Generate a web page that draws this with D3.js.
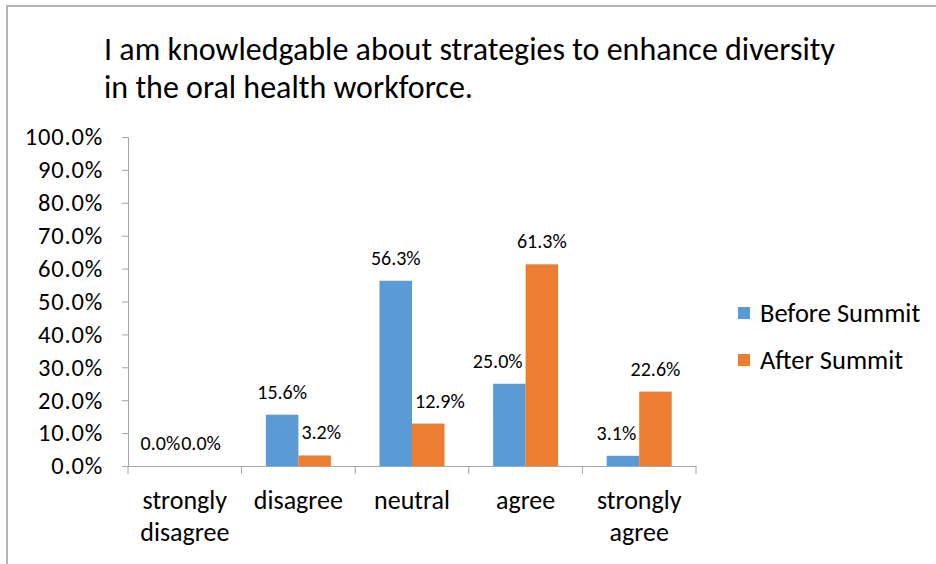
<!DOCTYPE html>
<html>
<head>
<meta charset="utf-8">
<script src="https://cdn.jsdelivr.net/npm/d3@7"></script>
<style>
  html, body { margin: 0; padding: 0; background: #fff; }
  svg { display: block; }
  text { font-family: Carlito, Lato, "Liberation Sans", sans-serif; fill: #000; }
</style>
</head>
<body>
<svg id="chart" width="936" height="564"></svg>
<script>
// Survey responses, share of respondents per answer
const categories = [["strongly", "disagree"], ["disagree"], ["neutral"], ["agree"], ["strongly", "agree"]];
const seriesNames = ["Before Summit", "After Summit"];
const beforeValues = [0.0, 15.6, 56.3, 25.0, 3.1];
const afterValues = [0.0, 3.2, 12.9, 61.3, 22.6];
const yTicks = [0, 10, 20, 30, 40, 50, 60, 70, 80, 90, 100];
const titleLines = ["I am knowledgable about strategies to enhance diversity", "in the oral health workforce."];
const colors = ["#5B9BD5", "#ED7D31"];

const svg = d3.select("#chart");

// frame around the chart area
svg.append("path")
  .attr("d", "M7,564 V6 H936")
  .attr("fill", "none")
  .attr("stroke", "#b4b4b4")
  .attr("stroke-width", 2);

// title
svg.append("g").selectAll("text")
  .data(titleLines)
  .join("text")
  .attr("x", 104)
  .attr("y", (d, i) => 60 + i * 38)
  .attr("font-size", 32)
  .text(d => d);

const plot = { left: 128, right: 696, top: 137, bottom: 466 };
const keys = categories.map(c => c.join(" "));

const x = d3.scaleBand().domain(keys).range([plot.left, plot.right]).paddingInner(0).paddingOuter(0);
const y = d3.scaleLinear().domain([0, 100]).range([plot.bottom, plot.top]);
const barW = x.bandwidth() * 0.286;
const xs = d3.scaleBand().domain(seriesNames).range([0, barW * 2]);

// y axis
const yAxis = d3.axisLeft(y).tickValues(yTicks).tickSize(6).tickPadding(19)
  .tickFormat(d => d.toFixed(1) + "%");
const gy = svg.append("g").attr("transform", `translate(${plot.left},0)`).call(yAxis);
gy.select(".domain").attr("stroke", "#a6a6a6");
gy.selectAll(".tick line").attr("stroke", "#a6a6a6");
gy.selectAll(".tick text")
  .attr("font-size", 24.5)
  .attr("letter-spacing", 0.8)
  .attr("font-family", null)
  .attr("fill", "#000");

// bars
const rows = keys.map((k, i) => ({ key: k, vals: [beforeValues[i], afterValues[i]] }));
const groups = svg.append("g").selectAll("g")
  .data(rows)
  .join("g")
  .attr("transform", d => `translate(${x(d.key) + (x.bandwidth() - barW * 2) / 2},0)`);

groups.selectAll("rect")
  .data(d => d.vals.map((v, j) => ({ v, s: seriesNames[j], j })))
  .join("rect")
  .attr("x", d => xs(d.s))
  .attr("width", xs.bandwidth())
  .attr("y", d => y(d.v))
  .attr("height", d => y(0) - y(d.v))
  .attr("fill", d => colors[d.j]);

// value labels
const gap = 3;
groups.each(function (row) {
  const labels = d3.select(this).selectAll("text.val")
    .data(row.vals.map((v, j) => ({ v, s: seriesNames[j], j })))
    .join("text")
    .attr("class", "val")
    .attr("x", d => xs(d.s) + xs.bandwidth() / 2)
    .attr("y", d => y(d.v) - 16)
    .attr("text-anchor", "middle")
    .attr("font-size", 20)
    .text(d => d.v.toFixed(1) + "%");
  const nodes = labels.nodes();

  // keep a label clear of the neighbouring, taller bar
  nodes.forEach((node, j) => {
    const k = 1 - j;
    const nx0 = xs(seriesNames[k]), nx1 = nx0 + xs.bandwidth();
    const ntop = y(row.vals[k]);
    const bb = node.getBBox();
    if (bb.y + bb.height <= ntop) return;
    const sel = d3.select(node);
    if (k > j && bb.x + bb.width > nx0 - gap) {
      sel.attr("x", +sel.attr("x") - (bb.x + bb.width - (nx0 - gap)));
    } else if (k < j && bb.x < nx1 + gap) {
      sel.attr("x", +sel.attr("x") + (nx1 + gap - bb.x));
    }
  });

  // when both labels sit on the same line and collide, nudge the first one left
  const a = nodes[0].getBBox(), b = nodes[1].getBBox();
  const sameLine = Math.abs(a.y - b.y) < a.height;
  if (sameLine && a.x + a.width > b.x - 1) {
    const shift = a.x + a.width - (b.x - 1);
    d3.select(nodes[0]).attr("x", +d3.select(nodes[0]).attr("x") - shift);
  }
});

// x axis
const xAxis = d3.axisBottom(x).tickSize(0).tickFormat("");
const gx = svg.append("g").attr("transform", `translate(0,${plot.bottom})`).call(xAxis);
gx.select(".domain").attr("stroke", "#a6a6a6");
const bounds = [plot.left].concat(keys.map(k => x(k) + x.bandwidth()));
gx.selectAll(".sep")
  .data(bounds)
  .join("line")
  .attr("x1", d => d).attr("x2", d => d)
  .attr("y1", 0).attr("y2", 8)
  .attr("stroke", "#a6a6a6");

// category labels
svg.append("g").selectAll("text")
  .data(categories.map((c, i) => ({ c, k: keys[i] })))
  .join("text")
  .attr("x", d => x(d.k) + x.bandwidth() / 2)
  .attr("y", 509)
  .attr("text-anchor", "middle")
  .attr("font-size", 26)
  .selectAll("tspan")
  .data(d => d.c.map((line, i) => ({ line, i, cx: x(d.k) + x.bandwidth() / 2 })))
  .join("tspan")
  .attr("x", d => d.cx)
  .attr("dy", d => d.i === 0 ? 0 : 32)
  .text(d => d.line);

// legend
const legend = svg.append("g").selectAll("g")
  .data(seriesNames)
  .join("g")
  .attr("transform", (d, i) => `translate(738,${307 + i * 47})`);
legend.append("rect").attr("width", 12).attr("height", 12).attr("fill", (d, i) => colors[i]);
legend.append("text").attr("x", 22).attr("y", 15).attr("font-size", 26.5).text(d => d);
</script>
</body>
</html>
